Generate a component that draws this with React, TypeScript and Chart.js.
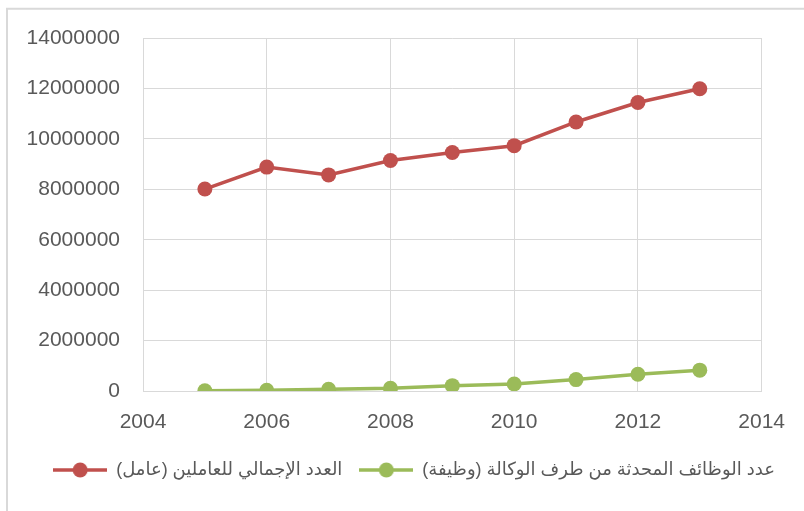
import React, { useEffect, useRef } from "react";
import { Chart, registerables } from "chart.js";

Chart.register(...registerables);

const years = [2005, 2006, 2007, 2008, 2009, 2010, 2011, 2012, 2013];
const totalWorkers = [8010000, 8880000, 8570000, 9140000, 9460000, 9730000, 10670000, 11440000, 11990000];
const jobsCreated = [10000, 30000, 67000, 107000, 213000, 280000, 453000, 667000, 827000];
const seriesNames = [
  "العدد الإجمالي للعاملين (عامل)",
  "عدد الوظائف المحدثة من طرف الوكالة (وظيفة)",
];
const xTicks = { min: 2004, max: 2014, step: 2 };
const yTicks = { min: 0, max: 14000000, step: 2000000 };

const RED = "#C0504D";
const GREEN = "#9BBB59";
const GRID = "#D9D9D9";
const TEXT = "#595959";

function makeMarker(color: string): HTMLCanvasElement {
  const c = document.createElement("canvas");
  c.width = 54;
  c.height = 16;
  const ctx = c.getContext("2d")!;
  ctx.strokeStyle = color;
  ctx.lineWidth = 3.5;
  ctx.beginPath();
  ctx.moveTo(0, 8);
  ctx.lineTo(54, 8);
  ctx.stroke();
  ctx.fillStyle = color;
  ctx.beginPath();
  ctx.arc(27, 8, 7.5, 0, Math.PI * 2);
  ctx.fill();
  return c;
}

const outerBorder = {
  id: "outerBorder",
  afterLayout(chart: any) {
    if (chart.legend) {
      chart.legend.left = 24;
      chart.legend.right = 804;
    }
  },
  beforeDraw(chart: any) {
    const ctx = chart.ctx;
    ctx.save();
    ctx.strokeStyle = "#D9D9D9";
    ctx.lineWidth = 2;
    ctx.beginPath();
    ctx.moveTo(7, 511);
    ctx.lineTo(7, 8.8);
    ctx.lineTo(804, 8.8);
    ctx.stroke();
    ctx.restore();
  },
};

export default function App() {
  const ref = useRef<HTMLCanvasElement | null>(null);
  useEffect(() => {
    if (!ref.current) return;
    const markers = [makeMarker(RED), makeMarker(GREEN)];
    const chart = new Chart(ref.current, {
      type: "line",
      data: {
        datasets: [
          {
            label: seriesNames[0],
            data: years.map((x, i) => ({ x, y: totalWorkers[i] })),
            borderColor: RED,
            backgroundColor: RED,
            borderWidth: 3.5,
            pointRadius: 7.5,
            pointHoverRadius: 7.5,
            pointBorderWidth: 0,
            pointBackgroundColor: RED,
          },
          {
            label: seriesNames[1],
            data: years.map((x, i) => ({ x, y: jobsCreated[i] })),
            borderColor: GREEN,
            backgroundColor: GREEN,
            borderWidth: 3.5,
            pointRadius: 7.5,
            pointHoverRadius: 7.5,
            pointBorderWidth: 0,
            pointBackgroundColor: GREEN,
          },
        ],
      },
      options: {
        animation: false,
        responsive: false,
        maintainAspectRatio: false,
        layout: { padding: { left: 0, right: 40, top: 38, bottom: 22 } },
        plugins: {
          tooltip: { enabled: false },
          legend: {
            position: "bottom",
            align: "center",
            rtl: false,
            textDirection: "rtl",
            labels: {
              usePointStyle: true,
              pointStyleWidth: 54,
              padding: 17,
              color: TEXT,
              font: { family: "'Liberation Sans', 'DejaVu Sans', sans-serif", size: 18 },
              generateLabels(chart: any) {
                const items = Chart.defaults.plugins.legend.labels.generateLabels(chart);
                return items.map((it: any, i: number) => ({ ...it, pointStyle: markers[i] }));
              },
            },
          },
        },
        scales: {
          x: {
            type: "linear",
            min: xTicks.min,
            max: xTicks.max,
            afterFit(scale: any) {
              scale.height = 53;
            },
            ticks: {
              stepSize: xTicks.step,
              padding: 19,
              color: TEXT,
              font: { family: "'Liberation Sans', sans-serif", size: 21 },
              callback: (v: any) => String(v),
            },
            grid: { color: GRID, lineWidth: 1, drawTicks: false },
            border: { color: GRID, width: 1 },
          },
          y: {
            min: yTicks.min,
            max: yTicks.max,
            afterFit(scale: any) {
              scale.width = 143;
            },
            ticks: {
              stepSize: yTicks.step,
              padding: 23,
              color: TEXT,
              font: { family: "'Liberation Sans', sans-serif", size: 21 },
              callback: (v: any) => String(v),
            },
            grid: { color: GRID, lineWidth: 1, drawTicks: false },
            border: { color: GRID, width: 1 },
          },
        },
      },
      plugins: [outerBorder],
    });
    return () => chart.destroy();
  }, []);
  return (
    <div style={{ position: "fixed", left: 0, top: 0, width: 804, height: 511, background: "#fff" }}>
      <canvas ref={ref} width={804} height={511} style={{ display: "block" }} />
    </div>
  );
}
